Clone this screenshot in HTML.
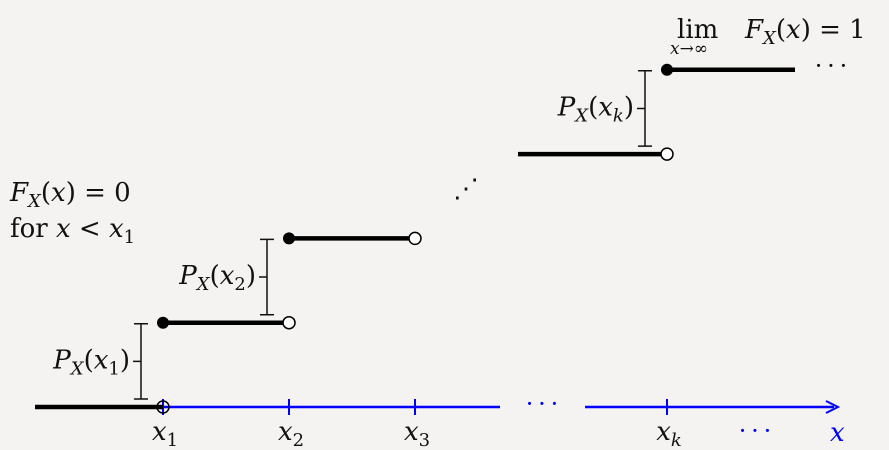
<!DOCTYPE html>
<html><head><meta charset="utf-8"><style>
html,body{margin:0;padding:0;background:#f4f3f1;}
svg{display:block;}
text{font-family:"DejaVu Serif","Liberation Serif",serif;}
.it{font-style:italic;}
</style></head><body>
<svg id="chart" width="889" height="450" viewBox="0 0 889 450">
<rect width="889" height="450" fill="#f4f3f1"/>
<g id="marks"></g>
</svg>
<script>
// data
const tickLabels = ["x1","x2","x3","xk"];
const tickIndex = [1, 2, 3, 5];          // positions along x axis (in units)
const stepLevels = [0, 1, 2, 3];          // cumulative level for each segment
const lastLevels = [3, 4];                // levels around x_k (before, after)

const NS="http://www.w3.org/2000/svg";
const g=document.getElementById('marks');
const X = u => 37 + u*126;               // axis function x
const Y = l => 407 - l*84.3;             // axis function y
const FS=26, SS=18;
function el(t,a,p){const e=document.createElementNS(NS,t);for(const k in a)e.setAttribute(k,a[k]);(p||g).appendChild(e);return e;}
function txt(x,y,html,size,name,color,anchor){const e=el('text',{x:x,y:y,'font-size':size||FS,'text-anchor':anchor||'start'});e.innerHTML=html;e.style.fill=color||'#111';


return e;}

// axis (blue)
const ax1=el('line',{x1:X(1),y1:407,x2:500,y2:407,stroke:'#0000ff','stroke-width':2.5});


const ax2=el('line',{x1:585,y1:407,x2:834,y2:407,stroke:'#0000ff','stroke-width':2.5});


const arr=el('path',{d:'M826,401 L838,407 L826,413',fill:'none',stroke:'#0000ff','stroke-width':2});


txt(542,412,'·&#8201;·&#8201;·',24,'axis-ellipsis','#0000ff','middle');
txt(830,441,'<tspan class="it">x</tspan>',FS,'x-axis-title','#0000ff');
txt(755,439,'·&#8201;·&#8201;·',24,'axis-ellipsis-right','#0000ff','middle');

// ticks and labels
tickIndex.forEach((u,i)=>{
  const t=el('line',{x1:X(u),y1:399,x2:X(u),y2:415,stroke:'#0000ff','stroke-width':2});
  
  
  const sub=tickLabels[i].slice(1);
  txt(X(u)+2,440,'<tspan class="it">x</tspan><tspan font-size="'+SS+'" dy="6" '+(sub==='k'?'font-style="italic"':'')+'>'+sub+'</tspan>',FS,'tick-label-'+tickLabels[i],null,'middle');
});

// steps
function seg(x1,x2,l,name,startFilled,endOpen){
  const s=el('line',{x1:x1,y1:Y(l),x2:x2,y2:Y(l),stroke:'#000','stroke-width':4.5});
  
  
  if(startFilled){const c=el('circle',{cx:x1,cy:Y(l),r:6,fill:'#000'});
    
    }
  if(endOpen){const c=el('circle',{cx:x2,cy:Y(l),r:6,fill:'#fff',stroke:'#000','stroke-width':1.5});
    
    }
}
seg(35,X(1),stepLevels[0],'step-0',false,false);
const oc=el('circle',{cx:X(1),cy:407,r:6,fill:'none',stroke:'#000','stroke-width':1.5});


seg(X(1),X(2),stepLevels[1],'step-1',true,true);
seg(X(2),X(3),stepLevels[2],'step-2',true,true);
seg(518,X(5),lastLevels[0],'step-k-minus',false,true);
seg(X(5),795,lastLevels[1],'step-k',true,false);
txt(466,197,'⋰',26,'diagonal-ellipsis',null,'middle');
txt(831,74,'·&#8201;·&#8201;·',24,'top-ellipsis',null,'middle');

// brackets
function bracket(x,l0,l1,name,label){
  const y0=Y(l0)-8,y1=Y(l1)+1,ym=(y0+y1)/2;
  const p=el('path',{d:`M${x-7},${y1} H${x+7} M${x},${y1} V${y0} M${x-7},${y0} H${x+7} M${x-8},${ym} H${x}`,stroke:'#111','stroke-width':1.5,fill:'none'});
  
  
  txt(x-11,ym+7,label,FS,name+'-label',null,'end');
}
const PX=s=>'<tspan class="it">P</tspan><tspan class="it" font-size="'+SS+'" dy="6">X</tspan><tspan dy="-6">(</tspan><tspan class="it">x</tspan><tspan font-size="'+SS+'" dy="6" '+(s==='k'?'font-style="italic"':'')+'>'+s+'</tspan><tspan dy="-6">)</tspan>';
bracket(141,stepLevels[0],stepLevels[1],'bracket-px1',PX('1'));
bracket(267,stepLevels[1],stepLevels[2],'bracket-px2',PX('2'));
bracket(645,lastLevels[0],lastLevels[1],'bracket-pxk',PX('k'));

// annotations
txt(10,201,'<tspan class="it">F</tspan><tspan class="it" font-size="'+SS+'" dy="6">X</tspan><tspan dy="-6">(</tspan><tspan class="it">x</tspan>) = 0',FS,'fx-zero-label');
txt(10,237,'for <tspan class="it">x</tspan> &lt; <tspan class="it">x</tspan><tspan font-size="'+SS+'" dy="6">1</tspan>',FS,'fx-zero-condition');
txt(677,38,'lim',FS,'lim-label');
txt(670,54,'<tspan class="it">x</tspan>→∞',17,'lim-subscript');
txt(745,38,'<tspan class="it">F</tspan><tspan class="it" font-size="'+SS+'" dy="6">X</tspan><tspan dy="-6">(</tspan><tspan class="it">x</tspan>) = 1',FS,'fx-one-label');
</script>
</body></html>
